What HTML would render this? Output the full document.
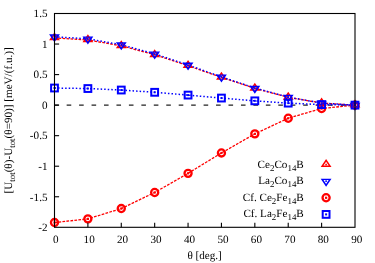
<!DOCTYPE html>
<html><head><meta charset="utf-8"><style>
html,body{margin:0;padding:0;background:#fff;}
svg{display:block;will-change:transform;}
text{font-family:"Liberation Serif",serif;font-size:11.15px;fill:#000;text-rendering:geometricPrecision;}
</style></head><body>
<svg width="375" height="263" viewBox="0 0 375 263">
<rect width="375" height="263" fill="#fff"/>
<line x1="54.2" y1="105.13" x2="355.0" y2="105.13" stroke="#222" stroke-width="1.2" stroke-dasharray="4.6,7.85"/>
<polyline fill="none" stroke="#ff0000" stroke-width="1.3" stroke-dasharray="2.7,1.3" points="54.50,37.93 87.89,39.96 121.28,45.79 154.67,54.73 188.06,65.70 221.44,77.37 254.83,88.33 288.22,97.27 321.61,103.10 355.00,105.13"/>
<path fill-rule="evenodd" fill="#ff0000" d="M54.50,32.33 L59.90,40.33 L49.10,40.33 Z M54.50,35.13 L57.10,38.98 L51.90,38.98 Z"/><rect x="53.70" y="37.13" width="1.6" height="1.6" fill="#ff0000"/>
<path fill-rule="evenodd" fill="#ff0000" d="M87.89,34.36 L93.29,42.36 L82.49,42.36 Z M87.89,37.16 L90.49,41.01 L85.29,41.01 Z"/><rect x="87.09" y="39.16" width="1.6" height="1.6" fill="#ff0000"/>
<path fill-rule="evenodd" fill="#ff0000" d="M121.28,40.19 L126.68,48.19 L115.88,48.19 Z M121.28,42.99 L123.88,46.84 L118.68,46.84 Z"/><rect x="120.48" y="44.99" width="1.6" height="1.6" fill="#ff0000"/>
<path fill-rule="evenodd" fill="#ff0000" d="M154.67,49.13 L160.07,57.13 L149.27,57.13 Z M154.67,51.93 L157.27,55.78 L152.07,55.78 Z"/><rect x="153.87" y="53.93" width="1.6" height="1.6" fill="#ff0000"/>
<path fill-rule="evenodd" fill="#ff0000" d="M188.06,60.10 L193.46,68.10 L182.66,68.10 Z M188.06,62.90 L190.66,66.75 L185.46,66.75 Z"/><rect x="187.26" y="64.90" width="1.6" height="1.6" fill="#ff0000"/>
<path fill-rule="evenodd" fill="#ff0000" d="M221.44,71.77 L226.84,79.77 L216.04,79.77 Z M221.44,74.57 L224.04,78.42 L218.84,78.42 Z"/><rect x="220.64" y="76.57" width="1.6" height="1.6" fill="#ff0000"/>
<path fill-rule="evenodd" fill="#ff0000" d="M254.83,82.73 L260.23,90.73 L249.43,90.73 Z M254.83,85.53 L257.43,89.38 L252.23,89.38 Z"/><rect x="254.03" y="87.53" width="1.6" height="1.6" fill="#ff0000"/>
<path fill-rule="evenodd" fill="#ff0000" d="M288.22,91.67 L293.62,99.67 L282.82,99.67 Z M288.22,94.47 L290.82,98.32 L285.62,98.32 Z"/><rect x="287.42" y="96.47" width="1.6" height="1.6" fill="#ff0000"/>
<path fill-rule="evenodd" fill="#ff0000" d="M321.61,97.50 L327.01,105.50 L316.21,105.50 Z M321.61,100.30 L324.21,104.15 L319.01,104.15 Z"/><rect x="320.81" y="102.30" width="1.6" height="1.6" fill="#ff0000"/>
<path fill-rule="evenodd" fill="#ff0000" d="M355.00,99.53 L360.40,107.53 L349.60,107.53 Z M355.00,102.33 L357.60,106.18 L352.40,106.18 Z"/><rect x="354.20" y="104.33" width="1.6" height="1.6" fill="#ff0000"/>
<polyline fill="none" stroke="#0000ff" stroke-width="1.5" stroke-dasharray="1.5,2.05" points="54.50,36.77 87.89,38.83 121.28,44.77 154.67,53.86 188.06,65.02 221.44,76.89 254.83,88.04 288.22,97.13 321.61,103.07 355.00,105.13"/>
<path fill-rule="evenodd" fill="#0000ff" d="M54.50,42.37 L59.90,34.37 L49.10,34.37 Z M54.50,39.57 L57.10,35.72 L51.90,35.72 Z"/><rect x="53.70" y="35.97" width="1.6" height="1.6" fill="#0000ff"/>
<path fill-rule="evenodd" fill="#0000ff" d="M87.89,44.43 L93.29,36.43 L82.49,36.43 Z M87.89,41.63 L90.49,37.78 L85.29,37.78 Z"/><rect x="87.09" y="38.03" width="1.6" height="1.6" fill="#0000ff"/>
<path fill-rule="evenodd" fill="#0000ff" d="M121.28,50.37 L126.68,42.37 L115.88,42.37 Z M121.28,47.57 L123.88,43.72 L118.68,43.72 Z"/><rect x="120.48" y="43.97" width="1.6" height="1.6" fill="#0000ff"/>
<path fill-rule="evenodd" fill="#0000ff" d="M154.67,59.46 L160.07,51.46 L149.27,51.46 Z M154.67,56.66 L157.27,52.81 L152.07,52.81 Z"/><rect x="153.87" y="53.06" width="1.6" height="1.6" fill="#0000ff"/>
<path fill-rule="evenodd" fill="#0000ff" d="M188.06,70.62 L193.46,62.62 L182.66,62.62 Z M188.06,67.82 L190.66,63.97 L185.46,63.97 Z"/><rect x="187.26" y="64.22" width="1.6" height="1.6" fill="#0000ff"/>
<path fill-rule="evenodd" fill="#0000ff" d="M221.44,82.49 L226.84,74.49 L216.04,74.49 Z M221.44,79.69 L224.04,75.84 L218.84,75.84 Z"/><rect x="220.64" y="76.09" width="1.6" height="1.6" fill="#0000ff"/>
<path fill-rule="evenodd" fill="#0000ff" d="M254.83,93.64 L260.23,85.64 L249.43,85.64 Z M254.83,90.84 L257.43,86.99 L252.23,86.99 Z"/><rect x="254.03" y="87.24" width="1.6" height="1.6" fill="#0000ff"/>
<path fill-rule="evenodd" fill="#0000ff" d="M288.22,102.73 L293.62,94.73 L282.82,94.73 Z M288.22,99.93 L290.82,96.08 L285.62,96.08 Z"/><rect x="287.42" y="96.33" width="1.6" height="1.6" fill="#0000ff"/>
<path fill-rule="evenodd" fill="#0000ff" d="M321.61,108.67 L327.01,100.67 L316.21,100.67 Z M321.61,105.87 L324.21,102.02 L319.01,102.02 Z"/><rect x="320.81" y="102.27" width="1.6" height="1.6" fill="#0000ff"/>
<path fill-rule="evenodd" fill="#0000ff" d="M355.00,110.73 L360.40,102.73 L349.60,102.73 Z M355.00,107.93 L357.60,104.08 L352.40,104.08 Z"/><rect x="354.20" y="104.33" width="1.6" height="1.6" fill="#0000ff"/>
<polyline fill="none" stroke="#ff0000" stroke-width="1.3" stroke-dasharray="2.7,1.3" points="54.50,222.54 87.89,218.87 121.28,208.55 154.67,192.48 188.06,173.33 221.44,152.96 254.83,133.87 288.22,118.26 321.61,108.49 355.00,105.13"/>
<circle cx="54.50" cy="222.54" r="3.55" fill="none" stroke="#ff0000" stroke-width="2.3"/><rect x="53.40" y="221.44" width="2.2" height="2.2" fill="#ff0000"/>
<circle cx="87.89" cy="218.87" r="3.55" fill="none" stroke="#ff0000" stroke-width="2.3"/><rect x="86.79" y="217.77" width="2.2" height="2.2" fill="#ff0000"/>
<circle cx="121.28" cy="208.55" r="3.55" fill="none" stroke="#ff0000" stroke-width="2.3"/><rect x="120.18" y="207.45" width="2.2" height="2.2" fill="#ff0000"/>
<circle cx="154.67" cy="192.48" r="3.55" fill="none" stroke="#ff0000" stroke-width="2.3"/><rect x="153.57" y="191.38" width="2.2" height="2.2" fill="#ff0000"/>
<circle cx="188.06" cy="173.33" r="3.55" fill="none" stroke="#ff0000" stroke-width="2.3"/><rect x="186.96" y="172.23" width="2.2" height="2.2" fill="#ff0000"/>
<circle cx="221.44" cy="152.96" r="3.55" fill="none" stroke="#ff0000" stroke-width="2.3"/><rect x="220.34" y="151.86" width="2.2" height="2.2" fill="#ff0000"/>
<circle cx="254.83" cy="133.87" r="3.55" fill="none" stroke="#ff0000" stroke-width="2.3"/><rect x="253.73" y="132.77" width="2.2" height="2.2" fill="#ff0000"/>
<circle cx="288.22" cy="118.26" r="3.55" fill="none" stroke="#ff0000" stroke-width="2.3"/><rect x="287.12" y="117.16" width="2.2" height="2.2" fill="#ff0000"/>
<circle cx="321.61" cy="108.49" r="3.55" fill="none" stroke="#ff0000" stroke-width="2.3"/><rect x="320.51" y="107.39" width="2.2" height="2.2" fill="#ff0000"/>
<circle cx="355.00" cy="105.13" r="3.55" fill="none" stroke="#ff0000" stroke-width="2.3"/><rect x="353.90" y="104.03" width="2.2" height="2.2" fill="#ff0000"/>
<polyline fill="none" stroke="#0000ff" stroke-width="1.5" stroke-dasharray="1.5,2.05" points="54.50,88.02 87.89,88.54 121.28,90.03 154.67,92.30 188.06,95.09 221.44,98.06 254.83,100.85 288.22,103.13 321.61,104.61 355.00,105.13"/>
<rect x="51.10" y="84.62" width="6.8" height="6.8" fill="none" stroke="#0000ff" stroke-width="2"/><rect x="53.50" y="87.02" width="2.0" height="2.0" fill="#0000ff"/>
<rect x="84.49" y="85.14" width="6.8" height="6.8" fill="none" stroke="#0000ff" stroke-width="2"/><rect x="86.89" y="87.54" width="2.0" height="2.0" fill="#0000ff"/>
<rect x="117.88" y="86.63" width="6.8" height="6.8" fill="none" stroke="#0000ff" stroke-width="2"/><rect x="120.28" y="89.03" width="2.0" height="2.0" fill="#0000ff"/>
<rect x="151.27" y="88.90" width="6.8" height="6.8" fill="none" stroke="#0000ff" stroke-width="2"/><rect x="153.67" y="91.30" width="2.0" height="2.0" fill="#0000ff"/>
<rect x="184.66" y="91.69" width="6.8" height="6.8" fill="none" stroke="#0000ff" stroke-width="2"/><rect x="187.06" y="94.09" width="2.0" height="2.0" fill="#0000ff"/>
<rect x="218.04" y="94.66" width="6.8" height="6.8" fill="none" stroke="#0000ff" stroke-width="2"/><rect x="220.44" y="97.06" width="2.0" height="2.0" fill="#0000ff"/>
<rect x="251.43" y="97.45" width="6.8" height="6.8" fill="none" stroke="#0000ff" stroke-width="2"/><rect x="253.83" y="99.85" width="2.0" height="2.0" fill="#0000ff"/>
<rect x="284.82" y="99.73" width="6.8" height="6.8" fill="none" stroke="#0000ff" stroke-width="2"/><rect x="287.22" y="102.13" width="2.0" height="2.0" fill="#0000ff"/>
<rect x="318.21" y="101.21" width="6.8" height="6.8" fill="none" stroke="#0000ff" stroke-width="2"/><rect x="320.61" y="103.61" width="2.0" height="2.0" fill="#0000ff"/>
<rect x="351.60" y="101.73" width="6.8" height="6.8" fill="none" stroke="#0000ff" stroke-width="2"/><rect x="354.00" y="104.13" width="2.0" height="2.0" fill="#0000ff"/>
<rect x="54.5" y="13.5" width="300.5" height="213.8" fill="none" stroke="#000" stroke-width="1.1"/>
<line x1="54.5" y1="44.04" x2="59.1" y2="44.04" stroke="#000" stroke-width="1.1"/>
<line x1="54.5" y1="74.59" x2="59.1" y2="74.59" stroke="#000" stroke-width="1.1"/>
<line x1="54.5" y1="105.13" x2="59.1" y2="105.13" stroke="#000" stroke-width="1.1"/>
<line x1="54.5" y1="135.67" x2="59.1" y2="135.67" stroke="#000" stroke-width="1.1"/>
<line x1="54.5" y1="166.21" x2="59.1" y2="166.21" stroke="#000" stroke-width="1.1"/>
<line x1="54.5" y1="196.76" x2="59.1" y2="196.76" stroke="#000" stroke-width="1.1"/>
<text x="47.5" y="17.25" text-anchor="end">1.5</text>
<text x="47.5" y="47.79" text-anchor="end">1</text>
<text x="47.5" y="78.34" text-anchor="end">0.5</text>
<text x="47.5" y="108.88" text-anchor="end">0</text>
<text x="47.5" y="139.42" text-anchor="end">-0.5</text>
<text x="47.5" y="169.96" text-anchor="end">-1</text>
<text x="47.5" y="200.51" text-anchor="end">-1.5</text>
<text x="47.5" y="231.05" text-anchor="end">-2</text>
<text x="55.70" y="242.70" text-anchor="middle">0</text>
<line x1="87.89" y1="227.3" x2="87.89" y2="222.70000000000002" stroke="#000" stroke-width="1.1"/>
<text x="89.16" y="242.70" text-anchor="middle">10</text>
<line x1="121.28" y1="227.3" x2="121.28" y2="222.70000000000002" stroke="#000" stroke-width="1.1"/>
<text x="122.61" y="242.70" text-anchor="middle">20</text>
<line x1="154.67" y1="227.3" x2="154.67" y2="222.70000000000002" stroke="#000" stroke-width="1.1"/>
<text x="156.07" y="242.70" text-anchor="middle">30</text>
<line x1="188.06" y1="227.3" x2="188.06" y2="222.70000000000002" stroke="#000" stroke-width="1.1"/>
<text x="189.52" y="242.70" text-anchor="middle">40</text>
<line x1="221.44" y1="227.3" x2="221.44" y2="222.70000000000002" stroke="#000" stroke-width="1.1"/>
<text x="222.98" y="242.70" text-anchor="middle">50</text>
<line x1="254.83" y1="227.3" x2="254.83" y2="222.70000000000002" stroke="#000" stroke-width="1.1"/>
<text x="256.43" y="242.70" text-anchor="middle">60</text>
<line x1="288.22" y1="227.3" x2="288.22" y2="222.70000000000002" stroke="#000" stroke-width="1.1"/>
<text x="289.89" y="242.70" text-anchor="middle">70</text>
<line x1="321.61" y1="227.3" x2="321.61" y2="222.70000000000002" stroke="#000" stroke-width="1.1"/>
<text x="323.34" y="242.70" text-anchor="middle">80</text>
<text x="356.80" y="242.70" text-anchor="middle">90</text>
<text x="204.6" y="258.6" text-anchor="middle">θ [deg.]</text>
<text transform="translate(11.5,120.4) rotate(-90)" text-anchor="middle"><tspan dy="0">[U</tspan><tspan font-size="8.92px" dy="3.0">tot</tspan><tspan dy="-3.0">(θ)-U</tspan><tspan font-size="8.92px" dy="3.0">tot</tspan><tspan dy="-3.0">(θ=90)] [meV/(f.u.)]</tspan></text>
<text x="303.8" y="167.55" text-anchor="end"><tspan dy="0">Ce</tspan><tspan font-size="8.92px" dy="3.0">2</tspan><tspan dy="-3.0">Co</tspan><tspan font-size="8.92px" dy="3.0">14</tspan><tspan dy="-3.0">B</tspan></text>
<path fill-rule="evenodd" fill="#ff0000" d="M326.10,158.95 L331.50,166.95 L320.70,166.95 Z M326.10,161.75 L328.70,165.60 L323.50,165.60 Z"/><rect x="325.30" y="163.75" width="1.6" height="1.6" fill="#ff0000"/>
<text x="303.8" y="184.16" text-anchor="end"><tspan dy="0">La</tspan><tspan font-size="8.92px" dy="3.0">2</tspan><tspan dy="-3.0">Co</tspan><tspan font-size="8.92px" dy="3.0">14</tspan><tspan dy="-3.0">B</tspan></text>
<path fill-rule="evenodd" fill="#0000ff" d="M326.10,186.76 L331.50,178.76 L320.70,178.76 Z M326.10,183.96 L328.70,180.11 L323.50,180.11 Z"/><rect x="325.30" y="180.36" width="1.6" height="1.6" fill="#0000ff"/>
<text x="303.8" y="200.77" text-anchor="end"><tspan dy="0">Cf. Ce</tspan><tspan font-size="8.92px" dy="3.0">2</tspan><tspan dy="-3.0">Fe</tspan><tspan font-size="8.92px" dy="3.0">14</tspan><tspan dy="-3.0">B</tspan></text>
<circle cx="326.10" cy="197.77" r="3.55" fill="none" stroke="#ff0000" stroke-width="2.3"/><rect x="325.00" y="196.67" width="2.2" height="2.2" fill="#ff0000"/>
<text x="303.8" y="217.40" text-anchor="end"><tspan dy="0">Cf. La</tspan><tspan font-size="8.92px" dy="3.0">2</tspan><tspan dy="-3.0">Fe</tspan><tspan font-size="8.92px" dy="3.0">14</tspan><tspan dy="-3.0">B</tspan></text>
<rect x="322.70" y="211.00" width="6.8" height="6.8" fill="none" stroke="#0000ff" stroke-width="2"/><rect x="325.10" y="213.40" width="2.0" height="2.0" fill="#0000ff"/>
</svg></body></html>
